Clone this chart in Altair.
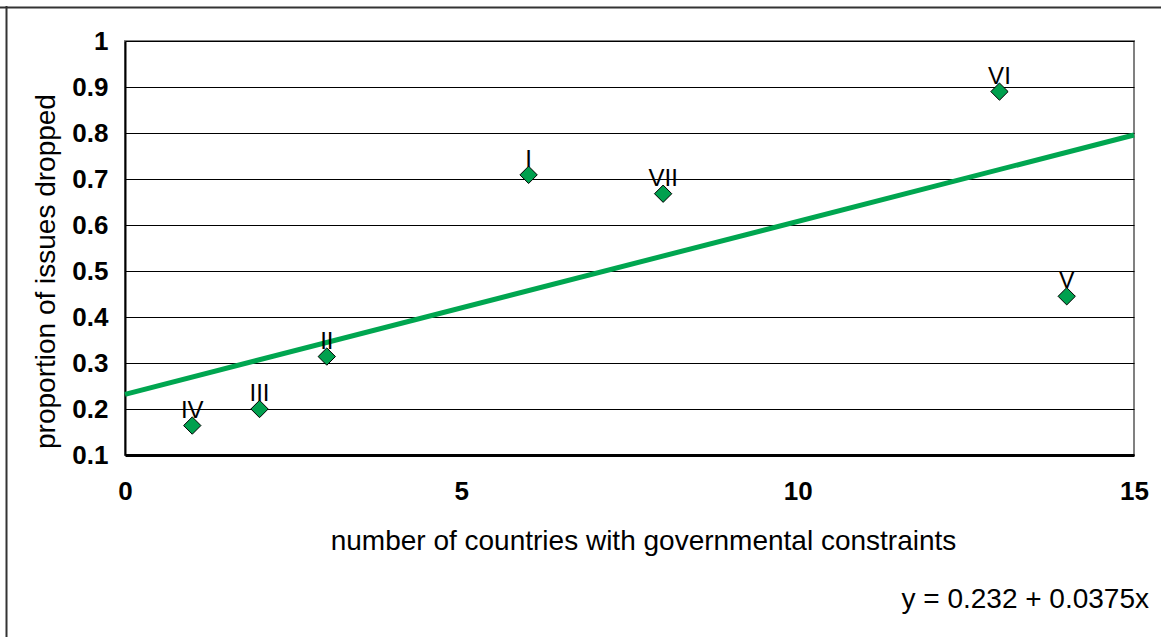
import altair as alt
import pandas as pd

# ---- data ----
labels = ["I", "II", "III", "IV", "V", "VI", "VII"]
countries = [6, 3, 2, 1, 14, 13, 8]
proportion = [0.709, 0.314, 0.200, 0.164, 0.445, 0.890, 0.668]
equation = ["y = 0.232 + 0.0375x"]
x_ticks = [0, 5, 10, 15]
y_ticks = [0.1, 0.2, 0.3, 0.4, 0.5, 0.6, 0.7, 0.8, 0.9, 1.0]

GREEN_LINE = "#00A650"
GREEN_FILL = "#00A04E"
FONT = "Liberation Sans"

df = pd.DataFrame({"label": labels, "x": countries, "y": proportion})
eq_df = pd.DataFrame({"text": equation})
one = pd.DataFrame({"a": [0]})

xscale = alt.Scale(domain=[0, 15], nice=False, zero=False)
yscale = alt.Scale(domain=[0.1, 1.0], nice=False, zero=False)

xenc = alt.X("x:Q", scale=xscale, axis=alt.Axis(
    values=x_ticks, format="d", grid=False, ticks=False, tickSize=0,
    labelFont=FONT, labelFontSize=26, labelFontWeight="bold", labelColor="black",
    labelPadding=23, labelFlush=False,
    domainColor="black", domainWidth=3,
    title="number of countries with governmental constraints",
    titleFont=FONT, titleFontSize=28, titleFontWeight="normal", titleColor="black",
    titleX=518, titleY=94, titleBaseline="alphabetic", titleAlign="center", titleAnchor="start"))
yenc = alt.Y("y:Q", scale=yscale, axis=alt.Axis(
    values=y_ticks, format="~g", grid=True, gridColor="black", gridWidth=1, gridOpacity=1,
    ticks=False, tickSize=0,
    labelFont=FONT, labelFontSize=26, labelFontWeight="bold", labelColor="black",
    labelPadding=17, labelFlush=False,
    domainColor="black", domainWidth=2,
    title="proportion of issues dropped",
    titleFont=FONT, titleFontSize=28, titleFontWeight="normal", titleColor="black",
    titleAngle=270, titleX=-71, titleY=230, titleBaseline="alphabetic", titleAlign="center",
    titleAnchor="start"))

base = alt.Chart(df)

trend = base.transform_regression("x", "y", extent=[0, 15]).mark_line(
    color=GREEN_LINE, strokeWidth=5).encode(x=xenc, y=yenc)

points = base.mark_point(shape="diamond", filled=True, fill=GREEN_FILL, stroke="black",
                         strokeWidth=1, size=300, opacity=1).encode(x=xenc, y=yenc)

text = base.mark_text(font=FONT, fontSize=24, color="black", baseline="alphabetic",
                      align="center", dy=-8).encode(x=xenc, y=yenc, text="label:N")

eq = alt.Chart(eq_df).mark_text(font=FONT, fontSize=28, color="black", align="right",
                                baseline="alphabetic").encode(
    x=alt.value(1024), y=alt.value(567), text="text:N")

top_border = alt.Chart(one).mark_rule(color="#333333", strokeWidth=2).encode(
    x=alt.value(-126), x2=alt.value(1040), y=alt.value(-33.5))
left_border = alt.Chart(one).mark_rule(color="#333333", strokeWidth=2).encode(
    x=alt.value(-118.5), y=alt.value(-35), y2=alt.value(600))

chart = alt.layer(trend, points, text, eq, top_border, left_border).properties(
    width=1009, height=414,
    autosize=alt.AutoSizeParams(type="none"),
    padding={"left": 125, "top": 41, "right": 27, "bottom": 182},
    background="white",
).configure_view(stroke="#808080", strokeWidth=2)

chart.save("out.html", embed_options={"renderer": "svg", "actions": False})
